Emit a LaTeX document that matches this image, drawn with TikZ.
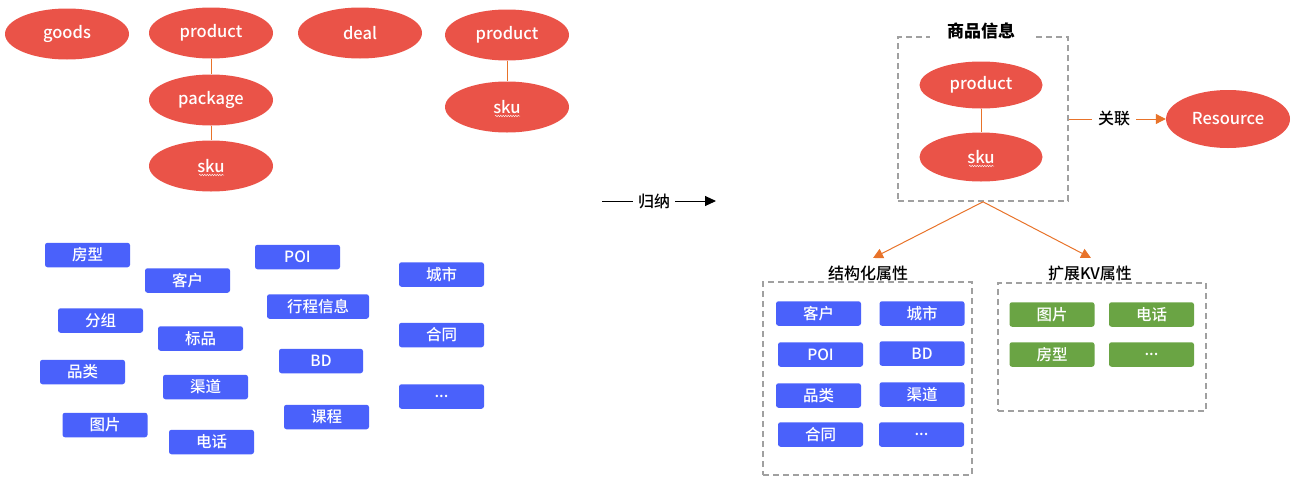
\documentclass[tikz,border=0pt]{standalone}
\usepackage{fontspec}
\setmainfont{Noto Sans CJK SC}
\newfontfamily\medfont{Noto Sans CJK SC Medium}
\usetikzlibrary{shapes.geometric,arrows.meta,decorations.pathmorphing}
\definecolor{ered}{RGB}{234,83,72}
\definecolor{bblue}{RGB}{74,97,251}
\definecolor{ggreen}{RGB}{106,164,68}
\definecolor{oline}{RGB}{232,115,42}
\definecolor{dgray}{RGB}{160,160,160}
\begin{document}
\begin{tikzpicture}[x=1pt,y=-1pt,
  font=\fontsize{16}{18}\selectfont,
  ell/.style={ellipse,fill=ered,draw=none,minimum width=124,minimum height=51,inner sep=0pt,text=white,font=\medfont\fontsize{16.5}{18}\selectfont},
  bbox/.style={rectangle,rounded corners=2.5pt,fill=bblue,minimum width=85,minimum height=24.5,inner sep=0pt,text=white,font=\medfont\fontsize{15.5}{17}\selectfont},
  gbox/.style={bbox,fill=ggreen},
  dbox/.style={rectangle,draw=dgray,line width=1.6pt,dash pattern=on 6pt off 4pt,inner sep=0pt},
  ttl/.style={fill=white,inner ysep=1pt,text=black},
  olink/.style={draw=oline,line width=1pt},
  oarrow/.style={draw=oline,line width=1pt,-{Triangle[width=10pt,length=10pt,fill=oline]}},
  squig/.style={draw=white!85!ered,line width=0.5pt,decorate,decoration={snake,amplitude=0.8pt,segment length=2.5pt}}
]
\useasboundingbox (0,0) rectangle (1297,482);

% ---- top-left ellipses ----
\node[ell] (goods) at (67,34) {goods};
\node[ell] (prod1) at (211,33) {product};
\node[ell] (deal) at (360,33) {deal};
\node[ell] (prod2) at (507,35) {product};
\node[ell] (pack) at (211,100) {package};
\node[ell] (sku1) at (211,166) {sku};
\node[ell] (sku2) at (507,107) {sku};
\draw[olink] (prod1) -- (pack);
\draw[olink] (pack) -- (sku1);
\draw[olink] (prod2) -- (sku2);
\draw[squig] (199,175) -- (224,175);
\draw[squig] (495,116) -- (520,116);

% ---- scattered blue boxes ----
\node[bbox] (b1) at (87.5,255) {房型};
\node[bbox] (b2) at (187.5,280.5) {客户};
\node[bbox] (b3) at (297.5,257) {POI};
\node[bbox] (b4) at (441.5,274.5) {城市};
\node[bbox,minimum width=102] (b5) at (318,306.5) {行程信息};
\node[bbox] (b6) at (100.5,320.5) {分组};
\node[bbox] (b7) at (200.5,338.5) {标品};
\node[bbox] (b8) at (441.5,335) {合同};
\node[bbox,minimum width=84] (b9) at (321,361) {BD};
\node[bbox] (b10) at (82.5,372) {品类};
\node[bbox] (b11) at (205.5,387) {渠道};
\node[bbox] (b12) at (441.5,396.5) {...};
\node[bbox] (b13) at (105,425) {图片};
\node[bbox] (b14) at (326.5,417) {课程};
\node[bbox] (b15) at (211.5,442) {电话};

% ---- induction arrow ----
\coordinate (ga) at (602,201);
\coordinate (gb) at (716,201);
\node[fill=white,inner xsep=5pt,inner ysep=1pt,font=\medfont\fontsize{16}{18}\selectfont] (gl) at (654,201) {归纳};
\draw[line width=1pt] (ga) -- (gl.west);
\draw[line width=1pt,-{Triangle[width=10pt,length=11pt]}] (gl.east) -- (gb);

% ---- 商品信息 ----
\node[dbox,minimum width=170,minimum height=164] (info) at (983,119) {};
\node[ttl,inner xsep=17pt,font=\fontsize{17}{19}\selectfont\bfseries] (infot) at (981,31) {商品信息};
\node[ell,minimum width=123,minimum height=47] (prod3) at (981,85) {product};
\node[ell,minimum width=123,minimum height=49] (sku3) at (981,157) {sku};
\draw[olink] (prod3) -- (sku3);
\draw[squig] (969,166) -- (994,166);

\node[ell,minimum width=124,minimum height=58] (res) at (1228,119) {Resource};
\node[fill=white,inner xsep=6pt,inner ysep=1pt,font=\medfont\fontsize{16}{18}\selectfont] (rel) at (1114,119) {关联};
\draw[olink] (info.east) -- (rel.west);
\draw[oarrow] (rel.east) -- (res.west);

% ---- 结构化属性 ----
\node[dbox,minimum width=209,minimum height=193] (sbox) at (867.5,378.5) {};
\node[ttl,inner xsep=15pt,font=\medfont\fontsize{16}{18}\selectfont] (st) at (868,273) {结构化属性};
\node[bbox] (s1) at (818.5,313.5) {客户};
\node[bbox] (s2) at (922,313.5) {城市};
\node[bbox] (s3) at (820.5,354.5) {POI};
\node[bbox] (s4) at (922,353.5) {BD};
\node[bbox] (s5) at (818.5,395.5) {品类};
\node[bbox] (s6) at (922,394.5) {渠道};
\node[bbox] (s7) at (820.5,434.5) {合同};
\node[bbox] (s8) at (921.5,434.5) {...};

% ---- 扩展KV属性 ----
\node[dbox,minimum width=208,minimum height=128] (kbox) at (1102,347) {};
\node[ttl,inner xsep=16pt,font=\medfont\fontsize{16}{18}\selectfont] (kt) at (1090,273) {扩展KV属性};
\node[gbox] (k1) at (1052,314.5) {图片};
\node[gbox] (k2) at (1151.5,314.5) {电话};
\node[gbox] (k3) at (1052,354.5) {房型};
\node[gbox] (k4) at (1151.5,354.5) {...};

\coordinate (sa) at (873,258);
\coordinate (ka) at (1091,258);
\draw[oarrow] (info.south) -- (sa);
\draw[oarrow] (info.south) -- (ka);
\end{tikzpicture}
\end{document}
